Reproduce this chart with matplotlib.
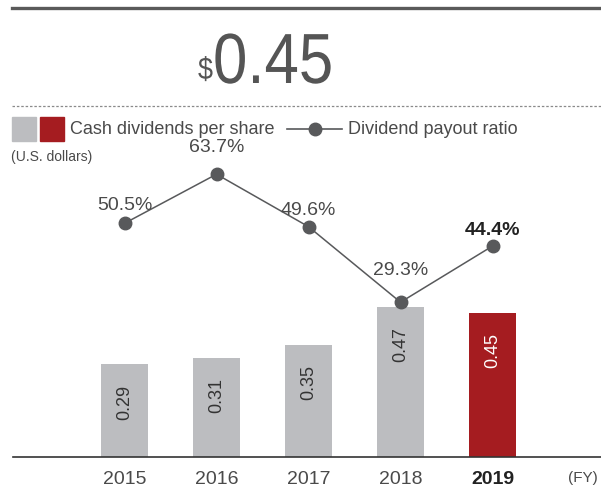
import matplotlib.pyplot as plt
from matplotlib.patches import Rectangle, PathPatch
from matplotlib.lines import Line2D
from matplotlib.textpath import TextPath
from matplotlib.font_manager import FontProperties
from matplotlib.transforms import Affine2D, IdentityTransform

years = ['2015', '2016', '2017', '2018', '2019']
dividends = [0.29, 0.31, 0.35, 0.47, 0.45]
payout = [50.5, 63.7, 49.6, 29.3, 44.4]
payout_labels = ['50.5%', '63.7%', '49.6%', '29.3%', '44.4%']

GRAY = '#bcbdc0'
RED = '#a51c20'
TEXT = '#4a4a4a'
LINE = '#58595b'

plt.rcParams['font.family'] = ['Liberation Sans', 'DejaVu Sans']

W, H = 601, 491
fig = plt.figure(figsize=(W / 100, H / 100), dpi=100)


def fx(x):
    return x / W


def fy(y):
    return 1 - y / H


def narrow_text(s, x, y, size, squeeze=0.87, color='#555555'):
    """draws text as a path, squeezed horizontally (x, y in pixels from top-left)"""
    path = TextPath((0, 0), s, size=size, prop=FontProperties(family='Liberation Sans'))
    tr = Affine2D().scale(squeeze, 1).translate(x, H - y)
    fig.add_artist(PathPatch(tr.transform_path(path), facecolor=color, edgecolor='none',
                             transform=IdentityTransform()))


# header rules and big number
fig.add_artist(Line2D([fx(12), 1], [fy(8), fy(8)], color='#5a5a5a', lw=2.4))
fig.add_artist(Line2D([fx(12), 1], [fy(106), fy(106)], color='#8a8a8a', lw=0.9,
                      linestyle=(0, (2, 1.5))))
narrow_text('$', 198, 79, 31)
narrow_text('0.45', 213, 83, 71)

# legend
fig.add_artist(Rectangle((fx(12), fy(141)), 24 / W, 24 / H, color=GRAY,
                         transform=fig.transFigure))
fig.add_artist(Rectangle((fx(40), fy(141)), 24 / W, 24 / H, color=RED,
                         transform=fig.transFigure))
fig.text(fx(70), fy(129), 'Cash dividends per share', fontsize=13, color=TEXT, va='center')
fig.add_artist(Line2D([fx(287), fx(342)], [fy(129), fy(129)], color=LINE, lw=1.2))
fig.add_artist(Line2D([fx(315)], [fy(129)], color=LINE, marker='o', markersize=9))
fig.text(fx(348), fy(129), 'Dividend payout ratio', fontsize=13, color=TEXT, va='center')
fig.text(fx(11), fy(157), '(U.S. dollars)', fontsize=10, color=TEXT, va='center')
fig.text(fx(598), fy(478), '(FY)', fontsize=11, color=TEXT, va='center', ha='right')

# chart area
ax = fig.add_axes([fx(13), fy(457), 1 - fx(13), 317 / H])
x = list(range(len(years)))
colors = [GRAY] * (len(years) - 1) + [RED]
ax.bar(x, dividends, width=0.51, color=colors)
ax.set_xlim(-1.212, 5.179)
ax.set_ylim(0, 317 / 320)
for i, v in enumerate(dividends):
    ax.text(i, v - 0.064, f'{v:.2f}', rotation=90, ha='center', va='top', fontsize=13,
            color='white' if i == len(years) - 1 else '#333333')

for s in ['top', 'right', 'left']:
    ax.spines[s].set_visible(False)
ax.spines['bottom'].set_color('#333333')
ax.spines['bottom'].set_linewidth(1.2)
ax.set_yticks([])
ax.set_xticks(x)
ax.set_xticklabels(years, fontsize=14, color=TEXT)
ax.tick_params(axis='x', length=0, pad=10)
ax.get_xticklabels()[-1].set_fontweight('bold')
ax.get_xticklabels()[-1].set_color('#222222')

ax2 = ax.twinx()
ax2.set_ylim(-12.3, 72.9)
ax2.plot(x, payout, color=LINE, lw=1.1, marker='o', markersize=9)
offsets = [13, 19, 12, 23, 11.5]
for i, (p, lab) in enumerate(zip(payout, payout_labels)):
    ax2.annotate(lab, (i, p), xytext=(0, offsets[i]), textcoords='offset points',
                 ha='center', va='center', fontsize=14,
                 color='#222222' if i == len(years) - 1 else TEXT,
                 fontweight='bold' if i == len(years) - 1 else 'normal')
ax2.axis('off')

fig.savefig('out.png', dpi=100)
